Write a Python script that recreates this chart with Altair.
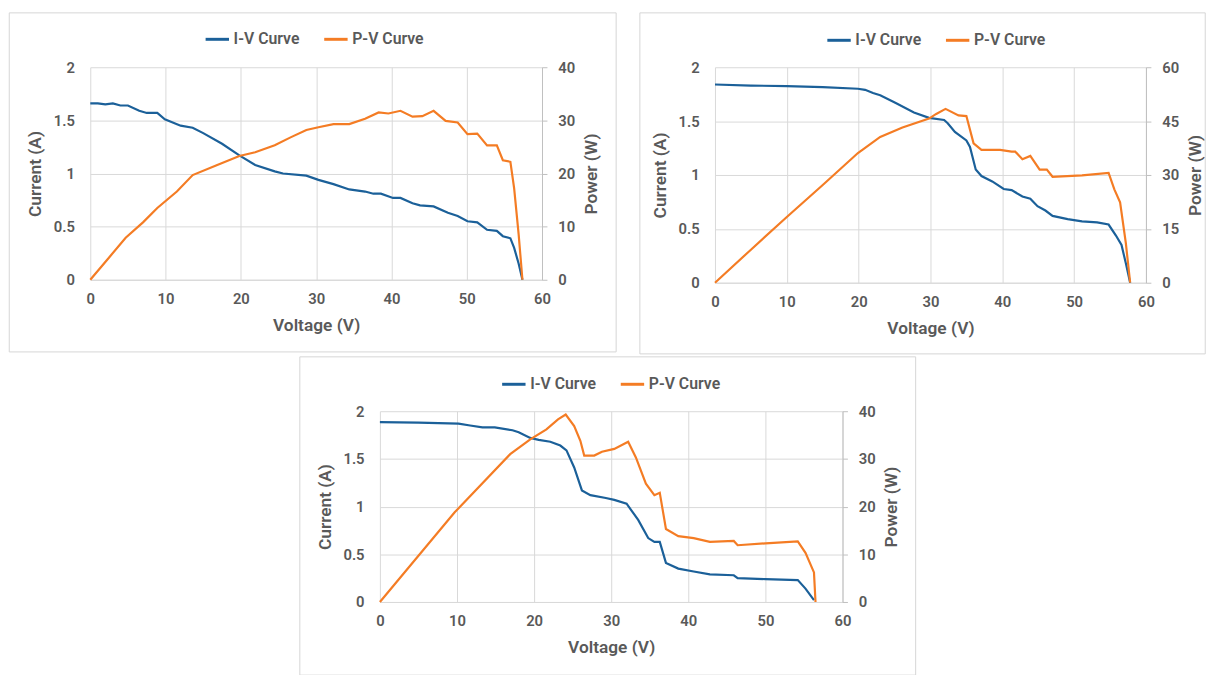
import altair as alt
import pandas as pd

BLUE = "#1b6099"
ORANGE = "#f47c24"
TXT = "#595959"
GRID = "#d9d9d9"
FONT = "Roboto"

series_names = ["I-V Curve", "P-V Curve"]
x_ticks = [0, 10, 20, 30, 40, 50, 60]
i_ticks = [0, 0.5, 1, 1.5, 2]

# ---- Panel 1 ----
p1_iv_v = [0, 1, 2, 3, 4, 5, 6.5, 7.5, 8.9, 9.9, 12, 13.6, 15, 17.5, 19.8, 21.9, 24.5, 25.6, 28.7, 30.3, 32.3,
           34.4, 36.5, 37.6, 38.6, 40.2, 41.2, 42.8, 43.8, 45.6, 47.5, 48.8, 50.1, 51.4, 52.7, 54, 54.8, 55.8,
           56.3, 56.9, 57.4]
p1_iv_i = [1.66, 1.66, 1.65, 1.66, 1.64, 1.64, 1.59, 1.57, 1.57, 1.51, 1.45, 1.43, 1.38, 1.28, 1.17, 1.08, 1.02,
           1.0, 0.98, 0.94, 0.90, 0.85, 0.83, 0.81, 0.81, 0.77, 0.77, 0.72, 0.70, 0.69, 0.63, 0.60, 0.55, 0.54,
           0.47, 0.46, 0.41, 0.39, 0.30, 0.15, 0.0]
p1_pv_v = [0, 2.5, 4.7, 7, 8.9, 11.5, 13.6, 16.7, 19.8, 21.9, 24.5, 26.6, 28.7, 30.3, 32.3, 34.4, 36.5, 38.3,
           39.6, 41.2, 42.8, 44.1, 45.6, 47.2, 48.8, 50.1, 51.4, 52.7, 54, 54.8, 55.8, 56.3, 56.9, 57.4]
p1_pv_p = [0, 4.2, 7.9, 10.8, 13.5, 16.6, 19.7, 21.5, 23.3, 24.0, 25.3, 26.8, 28.2, 28.7, 29.3, 29.3, 30.3, 31.5,
           31.3, 31.8, 30.7, 30.8, 31.8, 29.9, 29.6, 27.4, 27.5, 25.3, 25.3, 22.5, 22.2, 17.2, 8.5, 0]

# ---- Panel 2 ----
p2_iv_v = [0, 5, 10, 15, 19.9, 20.9, 22.0, 23, 25.1, 27.7, 29.8, 31.9, 32.4, 33.4, 35, 35.5, 36.3, 37.1, 38.6,
           40.2, 41.3, 42.8, 43.9, 44.9, 46, 47, 49.1, 51.1, 53.2, 54.8, 55.8, 56.6, 57.2, 57.8]
p2_iv_i = [1.84, 1.83, 1.825, 1.815, 1.80, 1.79, 1.76, 1.74, 1.67, 1.58, 1.53, 1.51, 1.48, 1.40, 1.32, 1.26, 1.05,
           0.99, 0.94, 0.87, 0.86, 0.80, 0.78, 0.71, 0.67, 0.62, 0.59, 0.57, 0.56, 0.54, 0.44, 0.35, 0.18, 0.0]
p2_pv_v = [0, 5, 10, 15, 19.9, 23, 26.1, 29.8, 30.8, 32.1, 33.9, 35, 36, 37.1, 39.7, 41.3, 41.8, 42.8, 43.9, 45.2,
           46.2, 47, 51.1, 54.8, 55.6, 56.4, 57.2, 57.8]
p2_pv_p = [0, 9.2, 18.3, 27.2, 36.1, 40.6, 43.2, 45.7, 47.0, 48.4, 46.6, 46.4, 38.8, 37.0, 37.0, 36.5, 36.5, 34.4,
           35.3, 31.5, 31.5, 29.5, 29.9, 30.6, 26.0, 22.4, 11.0, 0]

# ---- Panel 3 ----
p3_iv_v = [0, 5, 10.2, 11.7, 13.3, 14.9, 17.2, 18.0, 19.5, 20.6, 22.1, 23.4, 24.2, 25.2, 26.2, 27.3, 29.3, 30.4,
           32, 33.5, 34.8, 35.6, 36.3, 37.1, 38.7, 40.7, 42.8, 45.9, 46.4, 50, 54.2, 55.2, 56.3]
p3_iv_i = [1.886, 1.88, 1.87, 1.85, 1.83, 1.83, 1.80, 1.78, 1.72, 1.70, 1.68, 1.64, 1.59, 1.41, 1.17, 1.12, 1.09,
           1.07, 1.03, 0.86, 0.67, 0.63, 0.63, 0.41, 0.35, 0.32, 0.29, 0.28, 0.25, 0.24, 0.23, 0.14, 0.02]
p3_pv_v = [0, 9.7, 16.9, 19.5, 21.6, 23.1, 24.1, 25.2, 26, 26.5, 27.8, 28.8, 30.4, 32.2, 33.2, 34.5, 35.6, 36.3,
           37.1, 38.7, 40.7, 42.8, 45.9, 46.4, 50, 54.2, 55.2, 56.3, 56.5]
p3_pv_p = [0, 18.8, 31.0, 34.1, 36.2, 38.3, 39.3, 36.9, 33.8, 30.7, 30.7, 31.5, 32.1, 33.6, 30.3, 24.8, 22.4, 22.9,
           15.3, 13.8, 13.4, 12.6, 12.8, 11.9, 12.3, 12.7, 10.3, 6.2, 0]


def panel(iv_v, iv_i, pv_v, pv_p, w, h, p_max, p_ticks, frame, leg_xy):
    iv_df = pd.DataFrame({"v": iv_v, "val": iv_i, "series": series_names[0]})
    pv_df = pd.DataFrame({"v": pv_v, "val": pv_p, "series": series_names[1]})

    color = alt.Color(
        "series:N",
        scale=alt.Scale(domain=series_names, range=[BLUE, ORANGE]),
        legend=alt.Legend(
            orient="none", legendX=leg_xy[0], legendY=leg_xy[1], direction="horizontal", columns=2,
            title=None, symbolType="stroke", symbolStrokeWidth=3, symbolSize=560,
            labelFont=FONT, labelFontSize=16, labelFontWeight=600, labelColor=TXT,
            labelOffset=3, columnPadding=18, padding=0,
        ),
    )
    xenc = alt.X(
        "v:Q",
        scale=alt.Scale(domain=[0, 60], nice=False),
        axis=alt.Axis(values=x_ticks, title="Voltage (V)", grid=True, ticks=False, tickSize=0,
                      domain=True, labelPadding=12, titlePadding=10, labelFlush=False),
    )
    frame_layer = alt.Chart(pd.DataFrame({"k": [0]})).mark_rect(
        fillOpacity=0, stroke="#d6d6d6", strokeWidth=1
    ).encode(
        x=alt.value(frame[0]), x2=alt.value(frame[1]), y=alt.value(frame[2]), y2=alt.value(frame[3])
    )
    iv = alt.Chart(iv_df).mark_line(strokeWidth=2.2).encode(
        x=xenc,
        y=alt.Y("val:Q", scale=alt.Scale(domain=[0, 2], nice=False),
                axis=alt.Axis(orient="left", values=i_ticks, format="~g", title="Current (A)", grid=True,
                              domain=False, ticks=False, tickSize=0, labelPadding=16, titlePadding=9,
                              labelFlush=False)),
        color=color,
    )
    pv = alt.Chart(pv_df).mark_line(strokeWidth=2.2).encode(
        x=xenc,
        y=alt.Y("val:Q", scale=alt.Scale(domain=[0, p_max], nice=False),
                axis=alt.Axis(orient="right", values=p_ticks, title="Power (W)", grid=False,
                              titleAngle=270, titleBaseline="top", labelFlush=False,
                              domain=True, domainColor="#bfbfbf", ticks=True, tickSize=5,
                              tickColor="#bfbfbf", labelPadding=11, titlePadding=8)),
        color=color,
    )
    return alt.layer(frame_layer, iv, pv).resolve_scale(y="independent").properties(width=w, height=h)


c1 = panel(p1_iv_v, p1_iv_i, p1_pv_v, p1_pv_p, 457, 215, 40, [0, 10, 20, 30, 40],
           (-82, 457 + 75, -55, 215 + 73), (115, -42))
c2 = panel(p2_iv_v, p2_iv_i, p2_pv_v, p2_pv_p, 436, 218, 60, [0, 15, 30, 45, 60],
           (-76, 436 + 60, -55, 218 + 72), (112, -41))
c3 = panel(p3_iv_v, p3_iv_i, p3_pv_v, p3_pv_p, 468, 193, 40, [0, 10, 20, 30, 40],
           (-81, 468 + 74, -55, 193 + 74), (122, -41))

top_row = alt.hconcat(c1, c2, spacing=22).resolve_scale(color="independent")

chart = alt.vconcat(
    top_row,
    c3,
    spacing=1,
    center=True,
).resolve_scale(
    color="independent"
).properties(
    padding={"left": 0, "top": 0, "right": 0, "bottom": 0}
).configure_view(
    stroke=None
).configure_axis(
    labelFont=FONT, labelFontSize=15, labelFontWeight=600, labelColor=TXT,
    titleFont=FONT, titleFontSize=17.5, titleFontWeight=600, titleColor=TXT,
    gridColor=GRID, domainColor=GRID,
)

chart.save("out.html", embed_options={"renderer": "svg", "actions": False})
